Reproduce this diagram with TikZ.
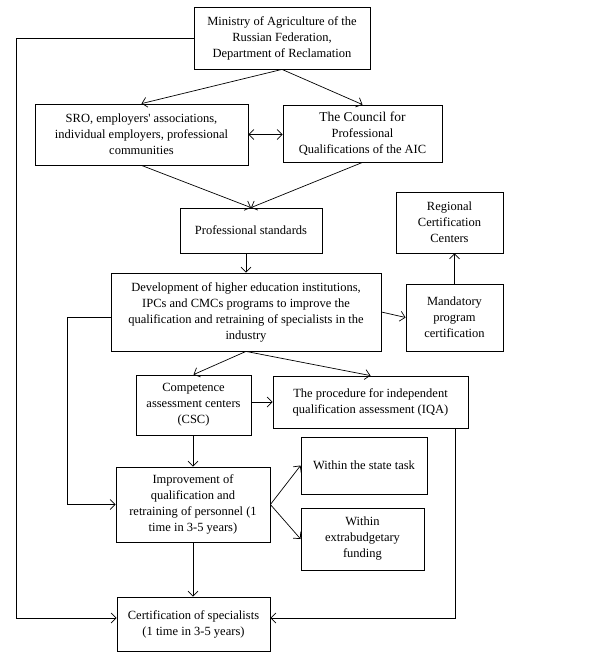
\documentclass[tikz,border=0pt]{standalone}
\usepackage{fontspec}
\setmainfont{Liberation Serif}
\usetikzlibrary{arrows.meta}
\begin{document}
\begin{tikzpicture}[x=1pt,y=-1pt,
  box/.style={draw,line width=0.8pt,inner sep=0pt,align=center,
    font=\fontsize{12.5}{16}\selectfont},
  arr/.style={line width=0.7pt,-{Straight Barb[length=5pt,width=10pt,line width=0.7pt]}},
  darr/.style={line width=0.7pt,{Straight Barb[length=5pt,width=10pt,line width=0.7pt]}-{Straight Barb[length=5pt,width=10pt,line width=0.7pt]}},
  ln/.style={line width=0.7pt}]
\useasboundingbox (0,0) rectangle (595,659);
\node[box,minimum width=176pt,minimum height=62pt] (min) at (282,38) {Ministry of Agriculture of the\\Russian Federation,\\Department of Reclamation};
\node[box,minimum width=213pt,minimum height=61pt] (sro) at (141.5,134.5) {SRO, employers\textquotesingle{} associations,\\individual employers, professional\\communities};
\node[box,minimum width=159pt,minimum height=57pt] (council) at (362.5,133.5) {\fontsize{13.5}{17}\selectfont The Council for\\Professional\\Qualifications of the AIC};
\node[box,minimum width=142pt,minimum height=45pt] (ps) at (251,230.5) {Professional standards};
\node[box,minimum width=107pt,minimum height=61pt] (rcc) at (449.5,222.5) {Regional\\Certification\\Centers};
\node[box,minimum width=270pt,minimum height=78pt] (dev) at (246,312) {Development of higher education institutions,\\IPCs and CMCs programs to improve the\\qualification and retraining of specialists in the\\industry};
\node[box,minimum width=97pt,minimum height=67pt] (mpc) at (454.5,317.5) {Mandatory\\program\\certification};
\node[box,minimum width=115pt,minimum height=60pt] (csc) at (193.5,405) {Competence\\assessment centers\\(CSC)};
\node[box,minimum width=195pt,minimum height=52pt] (iqa) at (370.5,402) {The procedure for independent\\qualification assessment (IQA)};
\node[box,minimum width=126pt,minimum height=57pt] (st) at (364,465.5) {Within the state task};
\node[box,minimum width=154pt,minimum height=75pt] (imp) at (193,504.5) {Improvement of\\qualification and\\retraining of personnel (1\\time in 3-5 years)};
\node[box,minimum width=123pt,minimum height=62pt] (eb) at (362.5,539) {Within\\extrabudgetary\\funding};
\node[box,minimum width=153pt,minimum height=54pt] (cert) at (193.5,624) {Certification of specialists\\(1 time in 3-5 years)};

\coordinate (l0) at (16,618);
\coordinate (l1) at (67,317);
\coordinate (r1) at (455,618);

\draw[arr] (min.south) -- (sro.north);
\draw[arr] (min.south) -- (council.north);
\draw[darr] (sro.east) -- (sro.east -| council.west);
\draw[arr] (sro.south) -- (ps.north);
\draw[arr] (council.south) -- (ps.north);
\draw[arr] (dev.north |- ps.south) -- (dev.north);
\draw[arr] (dev.east) -- (mpc.west);
\draw[arr] (mpc.north) -- (mpc.north |- rcc.south);
\draw[arr] (l1 -| dev.west) -- (l1) |- (imp.west);
\draw[arr] (dev.south) -- (csc.north);
\draw[arr] (dev.south) -- (iqa.north);
\draw[arr] (iqa.west -| csc.east) -- (iqa.west);
\draw[arr] (csc.south -| imp.north) -- (imp.north);
\draw[arr] (imp.east) -- (st.west);
\draw[arr] (imp.east) -- (eb.west);
\draw[arr] (imp.south) -- (imp.south |- cert.north);
\draw[arr] (iqa.south -| r1) -- (r1) -- (r1 -| cert.east);
\draw[arr] (min.west) -| (l0) -- (l0 -| cert.west);
\end{tikzpicture}
\end{document}
